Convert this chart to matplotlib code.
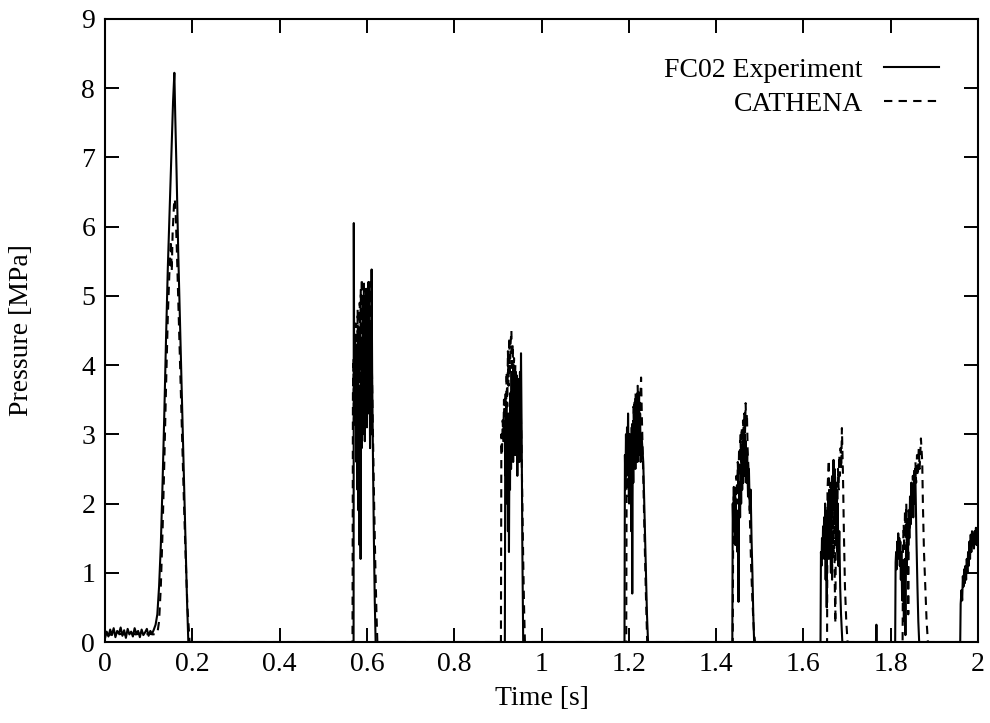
"""
Pressure transient: FC02 experiment vs CATHENA prediction.
"""

import matplotlib
matplotlib.use('Agg')
import matplotlib.pyplot as plt

plt.rcParams['font.family'] = ['Liberation Serif', 'DejaVu Serif']

# ---- data ----
exp_time = [
    # initial noisy baseline
    0.000, 0.004, 0.008, 0.012, 0.016, 0.020, 0.024, 0.028, 0.032, 0.036,
    0.040, 0.044, 0.048, 0.052, 0.056, 0.060, 0.064, 0.068, 0.072, 0.076,
    0.080, 0.084, 0.088, 0.092, 0.096, 0.100, 0.104, 0.108, 0.112,
    # pulse 1
    0.116, 0.120, 0.124, 0.128, 0.132, 0.136, 0.140, 0.144, 0.148, 0.152,
    0.156, 0.159, 0.161, 0.164, 0.168, 0.172, 0.176, 0.180, 0.184, 0.188, 0.191,
    # pulse 2
    0.5695, 0.5700, 0.5712, 0.5724, 0.5736, 0.5748, 0.5760, 0.5772, 0.5784, 0.5796,
    0.5808, 0.5820, 0.5832, 0.5844, 0.5856, 0.5868, 0.5880, 0.5892, 0.5904, 0.5916,
    0.5928, 0.5940, 0.5952, 0.5964, 0.5976, 0.5988, 0.6000, 0.6012, 0.6024, 0.6036,
    0.6048, 0.6060, 0.6072, 0.6084, 0.6096, 0.6108, 0.6120, 0.6140, 0.6160, 0.6180, 0.6200,
    # pulse 3
    0.9160, 0.9170, 0.9182, 0.9194, 0.9206, 0.9218, 0.9230, 0.9242, 0.9254, 0.9266,
    0.9278, 0.9290, 0.9302, 0.9314, 0.9326, 0.9338, 0.9350, 0.9362, 0.9374, 0.9386,
    0.9398, 0.9410, 0.9422, 0.9434, 0.9446, 0.9458, 0.9470, 0.9482, 0.9494, 0.9506,
    0.9518, 0.9530, 0.9545, 0.9560, 0.9580,
    # pulse 4
    1.1900, 1.1910, 1.1922, 1.1934, 1.1946, 1.1958, 1.1970, 1.1982, 1.1994, 1.2006,
    1.2018, 1.2030, 1.2042, 1.2054, 1.2066, 1.2078, 1.2090, 1.2102, 1.2114, 1.2126,
    1.2138, 1.2150, 1.2162, 1.2174, 1.2186, 1.2198, 1.2210, 1.2222, 1.2234, 1.2246,
    1.2258, 1.2270, 1.2290, 1.2330, 1.2360, 1.2390, 1.2415, 1.2440,
    # pulse 5
    1.4370, 1.4380, 1.4392, 1.4404, 1.4416, 1.4428, 1.4440, 1.4452, 1.4464, 1.4476,
    1.4488, 1.4500, 1.4512, 1.4524, 1.4536, 1.4548, 1.4560, 1.4572, 1.4584, 1.4596,
    1.4608, 1.4620, 1.4632, 1.4644, 1.4656, 1.4668, 1.4680, 1.4692, 1.4710, 1.4730,
    1.4750, 1.4770, 1.4790, 1.4810, 1.4830, 1.4850, 1.4870,
    # pulse 6
    1.6390, 1.6400, 1.6412, 1.6424, 1.6436, 1.6448, 1.6460, 1.6472, 1.6484, 1.6496,
    1.6508, 1.6520, 1.6532, 1.6544, 1.6556, 1.6568, 1.6580, 1.6592, 1.6604, 1.6616,
    1.6628, 1.6640, 1.6652, 1.6664, 1.6676, 1.6688, 1.6700, 1.6712, 1.6724, 1.6736,
    1.6748, 1.6760, 1.6772, 1.6784, 1.6800, 1.6820, 1.6840, 1.6860, 1.6890,
    # small blip
    1.7660, 1.7670, 1.7680,
    # pulse 7
    1.8100, 1.8110, 1.8122, 1.8134, 1.8146, 1.8158, 1.8170, 1.8182, 1.8194, 1.8206,
    1.8218, 1.8230, 1.8242, 1.8260, 1.8280, 1.8300, 1.8320, 1.8335, 1.8350, 1.8365,
    1.8380, 1.8395, 1.8410, 1.8425, 1.8440, 1.8455, 1.8470, 1.8485, 1.8500, 1.8515,
    1.8530, 1.8545, 1.8560, 1.8575, 1.8590, 1.8610, 1.8630, 1.8650,
    # pulse 8
    1.9590, 1.9600, 1.9620, 1.9635, 1.9650, 1.9665, 1.9680, 1.9695, 1.9710, 1.9725,
    1.9740, 1.9755, 1.9770, 1.9785, 1.9800, 1.9815, 1.9830, 1.9845, 1.9860, 1.9875,
    1.9890, 1.9905, 1.9920, 1.9935, 1.9950, 1.9965, 1.9980, 2.0000,
]
exp_pressure = [
    0.05, 0.15, 0.08, 0.18, 0.10, 0.20, 0.07, 0.16, 0.12, 0.21,
    0.09, 0.17, 0.06, 0.19, 0.11, 0.15, 0.08, 0.20, 0.12, 0.16,
    0.07, 0.18, 0.10, 0.14, 0.19, 0.09, 0.16, 0.12, 0.18,
    0.25, 0.40, 0.80, 1.40, 2.30, 3.30, 4.40, 5.40, 6.20, 7.00,
    7.80, 8.22, 7.60, 6.80, 5.60, 4.60, 3.60, 2.60, 1.60, 0.60, 0.00,
    0.00, 6.05, 3.20, 4.00, 3.30, 4.30, 2.60, 3.90, 2.20, 3.60,
    1.90, 3.40, 1.40, 3.70, 1.20, 3.90, 2.80, 4.40, 3.00, 4.70,
    3.20, 5.00, 2.90, 4.80, 3.50, 5.10, 3.10, 4.90, 3.60, 5.20,
    3.30, 4.60, 2.80, 4.30, 3.00, 5.38, 3.90, 2.60, 1.50, 0.60, 0.00,
    0.00, 3.20, 2.40, 3.40, 2.00, 3.10, 1.60, 3.30, 1.30, 3.00,
    2.20, 3.60, 2.50, 3.90, 2.80, 3.70, 2.60, 4.00, 3.00, 3.80,
    2.70, 3.90, 3.10, 3.60, 2.40, 3.80, 2.90, 3.50, 2.60, 3.90,
    3.00, 4.17, 3.00, 1.40, 0.00,
    0.00, 2.70, 2.20, 3.00, 2.40, 3.10, 2.50, 3.30, 2.70, 2.00,
    3.00, 2.20, 2.90, 1.60, 3.10, 0.70, 2.80, 2.30, 3.20, 2.60,
    3.40, 2.50, 3.30, 2.80, 3.50, 2.60, 3.40, 2.90, 3.60, 2.70,
    3.30, 2.60, 3.00, 2.60, 1.80, 1.00, 0.40, 0.00,
    0.00, 2.00, 1.60, 2.24, 1.70, 2.10, 1.40, 2.00, 1.50, 1.90,
    1.30, 1.80, 0.58, 2.00, 2.30, 1.80, 2.50, 2.00, 2.70, 2.20,
    2.90, 2.30, 3.10, 2.40, 3.00, 2.40, 2.90, 2.30, 2.70, 2.10,
    2.50, 1.90, 2.20, 1.50, 1.00, 0.40, 0.00,
    0.00, 1.30, 1.10, 1.50, 1.20, 1.67, 1.30, 1.80, 1.20, 2.00,
    0.90, 1.70, 0.50, 1.90, 1.40, 2.10, 1.20, 2.20, 1.60, 2.00,
    1.00, 2.30, 1.80, 2.40, 1.90, 2.63, 2.00, 2.50, 1.70, 2.30,
    1.50, 2.20, 1.30, 2.00, 1.10, 1.60, 0.80, 0.40, 0.00,
    0.00, 0.25, 0.00,
    0.00, 1.15, 1.30, 1.05, 1.45, 1.20, 1.57, 1.25, 1.50, 1.10,
    1.45, 0.90, 1.30, 0.60, 1.10, 0.30, 1.20, 0.10, 1.40, 1.00,
    1.70, 1.30, 1.90, 1.50, 2.10, 1.70, 2.30, 1.90, 2.20, 1.80,
    2.40, 2.00, 2.49, 1.90, 1.40, 0.80, 0.30, 0.00,
    0.00, 0.55, 0.75, 0.60, 0.95, 0.80, 1.05, 0.85, 1.10, 0.90,
    1.20, 1.00, 1.30, 1.10, 1.45, 1.20, 1.55, 1.30, 1.60, 1.40,
    1.55, 1.35, 1.60, 1.45, 1.65, 1.40, 1.60, 1.50,
]

cat_time = [
    # initial baseline
    0.000, 0.010, 0.020, 0.030, 0.040, 0.050, 0.060, 0.070, 0.080, 0.090,
    0.100, 0.110, 0.120,
    # pulse 1
    0.124, 0.128, 0.132, 0.136, 0.140, 0.144, 0.148, 0.151, 0.153, 0.155,
    0.158, 0.160, 0.162, 0.165, 0.169, 0.173, 0.177, 0.181, 0.185, 0.189, 0.194,
    # pulse 2
    0.5670, 0.5680, 0.5692, 0.5704, 0.5716, 0.5728, 0.5740, 0.5752, 0.5764, 0.5776,
    0.5788, 0.5800, 0.5812, 0.5824, 0.5836, 0.5848, 0.5860, 0.5872, 0.5884, 0.5896,
    0.5908, 0.5920, 0.5932, 0.5944, 0.5956, 0.5968, 0.5980, 0.5992, 0.6004, 0.6016,
    0.6028, 0.6040, 0.6052, 0.6064, 0.6076, 0.6088, 0.6100, 0.6130, 0.6160, 0.6190,
    0.6220, 0.6240,
    # pulse 3
    0.9070, 0.9080, 0.9095, 0.9110, 0.9125, 0.9140, 0.9155, 0.9170, 0.9185, 0.9200,
    0.9215, 0.9230, 0.9245, 0.9260, 0.9275, 0.9290, 0.9310, 0.9325, 0.9340, 0.9355,
    0.9370, 0.9385, 0.9400, 0.9415, 0.9430, 0.9445, 0.9460, 0.9475, 0.9490, 0.9505,
    0.9520, 0.9540, 0.9560, 0.9580, 0.9600, 0.9620,
    # pulse 4
    1.1940, 1.1950, 1.1962, 1.1974, 1.1986, 1.1998, 1.2010, 1.2022, 1.2034, 1.2046,
    1.2058, 1.2070, 1.2082, 1.2094, 1.2106, 1.2118, 1.2130, 1.2142, 1.2154, 1.2166,
    1.2178, 1.2190, 1.2202, 1.2214, 1.2226, 1.2238, 1.2250, 1.2280, 1.2300, 1.2330,
    1.2360, 1.2390, 1.2420,
    # pulse 5
    1.4380, 1.4390, 1.4405, 1.4420, 1.4435, 1.4450, 1.4465, 1.4480, 1.4495, 1.4510,
    1.4525, 1.4540, 1.4555, 1.4570, 1.4585, 1.4600, 1.4615, 1.4630, 1.4645, 1.4660,
    1.4675, 1.4690, 1.4705, 1.4720, 1.4740, 1.4760, 1.4780, 1.4800, 1.4830, 1.4860,
    1.4890,
    # pulse 6
    1.6540, 1.6550, 1.6565, 1.6580, 1.6595, 1.6610, 1.6625, 1.6640, 1.6655, 1.6670,
    1.6685, 1.6700, 1.6715, 1.6730, 1.6745, 1.6760, 1.6775, 1.6790, 1.6805, 1.6820,
    1.6835, 1.6850, 1.6865, 1.6880, 1.6905, 1.6925, 1.6950, 1.6980, 1.7010, 1.7030,
    # pulse 7
    1.8270, 1.8280, 1.8295, 1.8310, 1.8325, 1.8340, 1.8355, 1.8370, 1.8385, 1.8400,
    1.8415, 1.8430, 1.8445, 1.8460, 1.8475, 1.8490, 1.8505, 1.8520, 1.8535, 1.8550,
    1.8565, 1.8580, 1.8600, 1.8620, 1.8640, 1.8660, 1.8690, 1.8720, 1.8735, 1.8760,
    1.8790, 1.8820, 1.8850, 1.8870,
    2.0000,
]
cat_pressure = [
    0.12, 0.10, 0.13, 0.11, 0.12, 0.10, 0.13, 0.11, 0.12, 0.10,
    0.12, 0.11, 0.12,
    0.30, 0.80, 1.60, 2.60, 3.70, 4.70, 5.40, 5.80, 5.35, 5.90,
    6.30, 6.40, 6.20, 5.60, 4.70, 3.80, 2.90, 2.00, 1.20, 0.50, 0.00,
    0.00, 3.60, 4.10, 3.10, 4.40, 3.40, 4.60, 3.00, 4.20, 3.30,
    4.80, 3.60, 4.50, 3.20, 4.90, 3.80, 5.10, 4.00, 5.25, 3.90,
    5.00, 4.20, 5.20, 3.70, 4.90, 4.10, 5.10, 3.80, 4.70, 4.20,
    5.00, 3.90, 4.60, 4.30, 5.20, 4.00, 4.50, 3.30, 2.20, 1.20,
    0.40, 0.00,
    0.00, 3.00, 2.70, 3.20, 2.90, 3.50, 3.00, 3.60, 3.20, 3.90,
    3.40, 4.20, 3.70, 4.40, 3.90, 4.30, 4.50, 3.80, 4.30, 3.60,
    4.10, 3.50, 4.00, 3.30, 3.90, 3.20, 3.70, 3.00, 3.60, 3.10,
    3.50, 2.90, 2.00, 1.20, 0.50, 0.00,
    0.00, 2.50, 2.92, 2.30, 2.70, 2.10, 2.60, 2.40, 2.90, 2.50,
    3.00, 2.60, 3.20, 2.80, 3.40, 2.90, 3.50, 3.00, 3.60, 3.10,
    3.50, 3.20, 3.70, 3.30, 3.60, 3.60, 3.30, 3.82, 3.20, 2.40,
    1.50, 0.70, 0.00,
    0.00, 1.80, 2.10, 1.70, 2.20, 1.90, 2.40, 2.00, 2.60, 2.20,
    2.80, 2.40, 3.00, 2.60, 3.10, 2.80, 3.20, 2.90, 3.30, 3.00,
    3.45, 3.10, 3.30, 2.80, 2.50, 2.10, 1.60, 1.10, 0.60, 0.20,
    0.00,
    0.00, 2.20, 2.40, 2.63, 2.00, 2.30, 1.40, 2.10, 0.90, 1.80,
    1.20, 1.90, 0.90, 0.27, 2.00, 2.30, 1.90, 2.50, 2.20, 2.70,
    2.40, 2.80, 2.50, 3.09, 2.40, 1.60, 0.80, 0.30, 0.00, 0.00,
    0.00, 1.40, 1.70, 1.30, 1.90, 1.50, 2.00, 1.20, 1.80, 0.40,
    1.90, 1.60, 2.10, 1.80, 2.30, 2.00, 2.40, 2.10, 2.50, 2.20,
    2.60, 2.30, 2.70, 2.40, 2.80, 2.50, 2.94, 2.60, 2.00, 1.30,
    0.80, 0.30, 0.00, 0.00,
    0.00,
]

x_ticks = [0.0, 0.2, 0.4, 0.6, 0.8, 1.0, 1.2, 1.4, 1.6, 1.8, 2.0]
x_tick_labels = ['0', '0.2', '0.4', '0.6', '0.8', '1', '1.2', '1.4', '1.6', '1.8', '2']
y_ticks = [0, 1, 2, 3, 4, 5, 6, 7, 8, 9]

FS = 20

fig = plt.figure(figsize=(9.9, 7.23), dpi=100)
ax = fig.add_axes([0.106, 0.112, 0.882, 0.862])

ax.plot(exp_time, exp_pressure, color='black', lw=1.5, label='FC02 Experiment')
ax.plot(cat_time, cat_pressure, color='black', lw=1.5, linestyle=(0, (4, 3)),
        label='CATHENA')

ax.set_xlim(0, 2)
ax.set_ylim(0, 9)
ax.set_xticks(x_ticks)
ax.set_xticklabels(x_tick_labels)
ax.set_yticks(y_ticks)
ax.tick_params(direction='in', top=True, right=True, length=10, width=1.4,
               labelsize=FS, pad=7)
for spine in ax.spines.values():
    spine.set_linewidth(1.5)

ax.set_xlabel('Time [s]', fontsize=FS, labelpad=7)
ax.set_ylabel('Pressure [MPa]', fontsize=FS, labelpad=34)

ax.legend(loc='upper right', frameon=False, markerfirst=False,
          fontsize=FS, handlelength=2.0, handletextpad=0.75,
          labelspacing=0.3, borderaxespad=1.0)

fig.savefig('out.png', dpi=100)
plt.close(fig)
